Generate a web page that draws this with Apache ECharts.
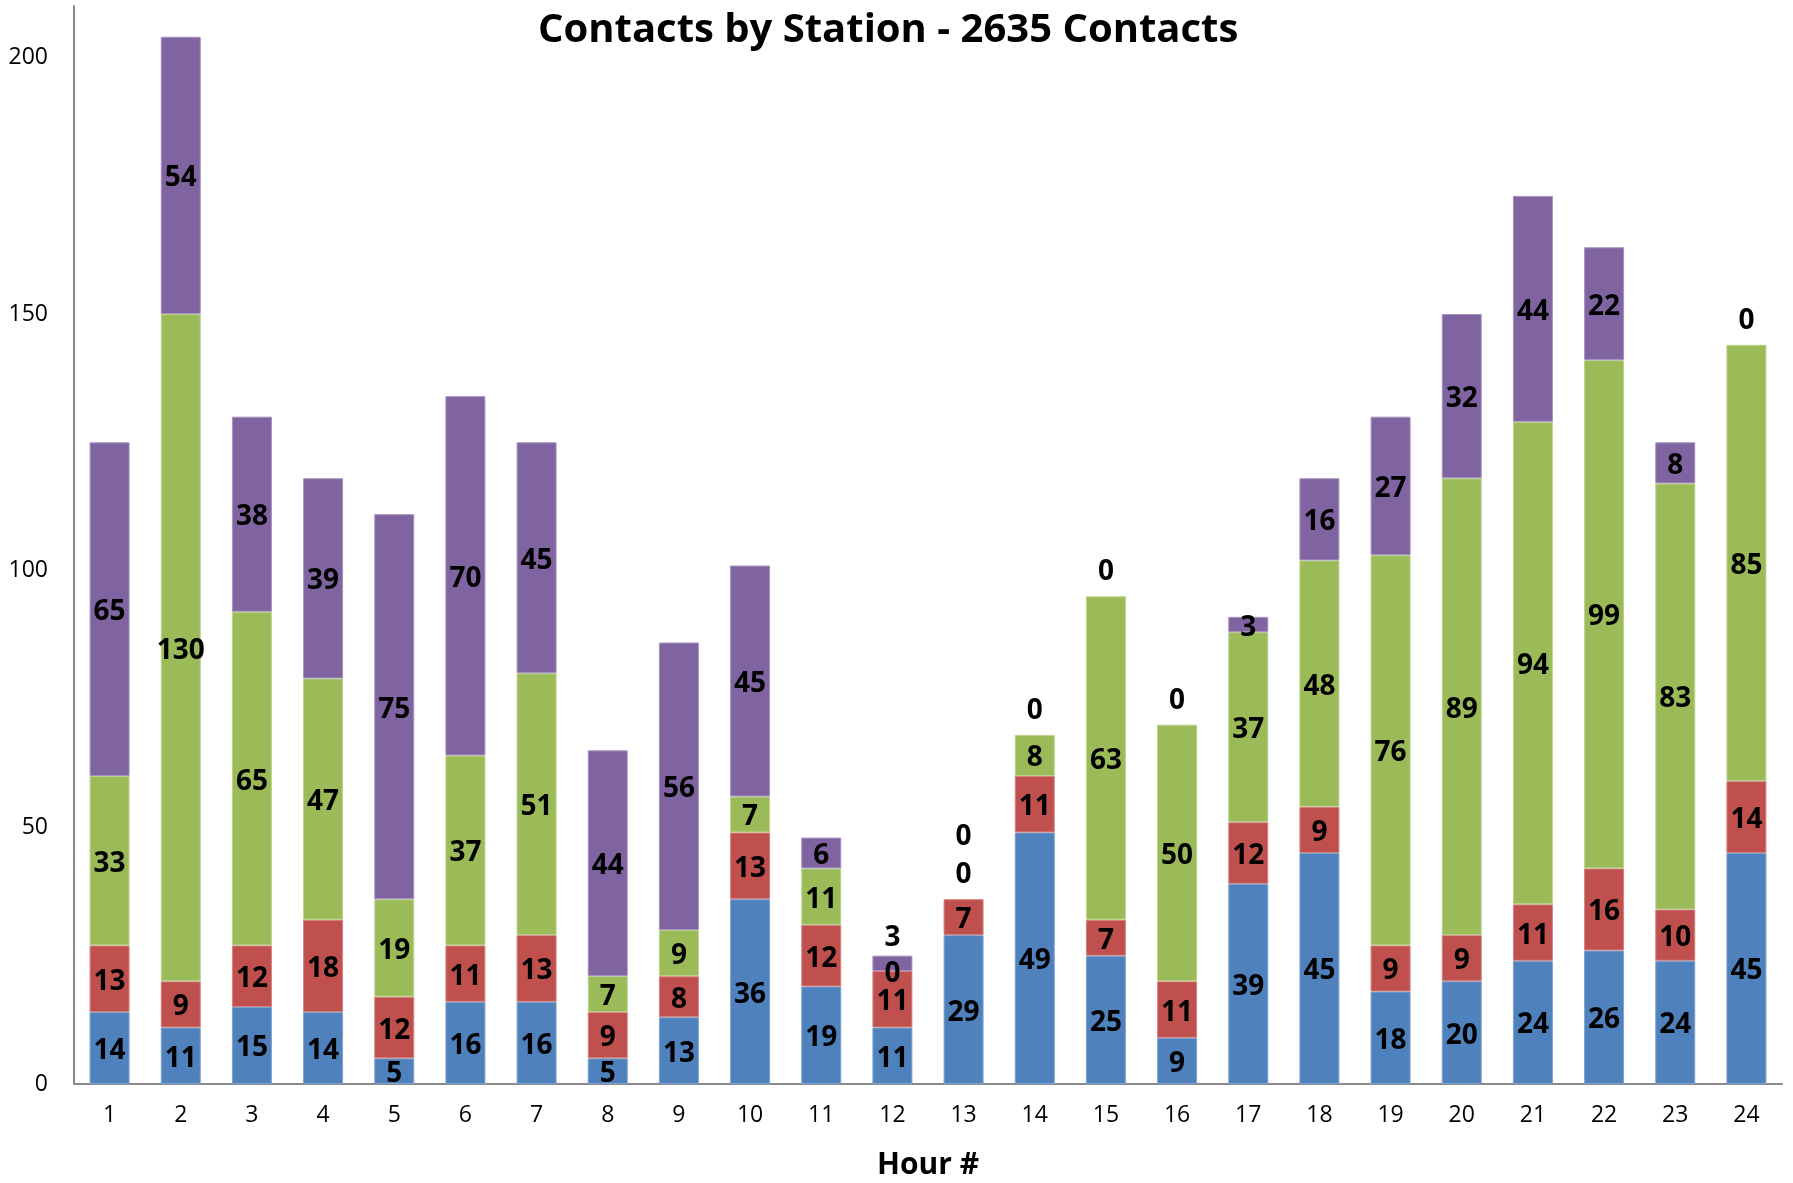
<!DOCTYPE html>
<html>
<head>
<meta charset="utf-8">
<title>Contacts by Station</title>
<script src="https://cdn.jsdelivr.net/npm/echarts@6/dist/echarts.min.js"></script>
<style>
  html, body { margin: 0; padding: 0; background: #fff; }
  #chart { width: 1793px; height: 1183px; }
</style>
</head>
<body>
<div id="chart"></div>
<script>
var hours = ['1','2','3','4','5','6','7','8','9','10','11','12','13','14','15','16','17','18','19','20','21','22','23','24'];
var station1 = [14, 11, 15, 14, 5, 16, 16, 5, 13, 36, 19, 11, 29, 49, 25, 9, 39, 45, 18, 20, 24, 26, 24, 45];
var station2 = [13, 9, 12, 18, 12, 11, 13, 9, 8, 13, 12, 11, 7, 11, 7, 11, 12, 9, 9, 9, 11, 16, 10, 14];
var station3 = [33, 130, 65, 47, 19, 37, 51, 7, 9, 7, 11, 0, 0, 8, 63, 50, 37, 48, 76, 89, 94, 99, 83, 85];
var station4 = [65, 54, 38, 39, 75, 70, 45, 44, 56, 45, 6, 3, 0, 0, 0, 0, 3, 16, 27, 32, 44, 22, 8, 0];

var stack = [station1, station2, station3, station4];
var names = ['Station 1', 'Station 2', 'Station 3', 'Station 4'];
var colors = ['#4F81BD', '#C0504D', '#9BBB59', '#8064A2'];
var borders = ['#7FA3D1', '#D48280', '#BCD38F', '#A592BF'];

// zero segments on top of a bar get their label lifted above it, like excel does
function buildItem(si, i) {
  var v = stack[si][i];
  var above = stack.slice(si + 1).map(function (s) { return s[i]; });
  if (v === 0) {
    var item = { value: v, itemStyle: { borderWidth: 0 } };
    if (above.every(function (a) { return a === 0; })) {
      var k = 0;
      for (var j = si - 1; j >= 0 && stack[j][i] === 0; j--) k++;
      item.label = { position: 'top', distance: 10 + k * 38, offset: [0, 0] };
    }
    return item;
  }
  if (v < 5 && si > 0 && stack[si - 1][i] === 0) {
    return { value: v, label: { position: 'top', distance: 4, offset: [0, 0] } };
  }
  return v;
}

var series = stack.map(function (arr, si) {
  return {
    name: names[si],
    type: 'bar',
    stack: 'total',
    barWidth: 40,
    data: arr.map(function (v, i) { return buildItem(si, i); }),
    itemStyle: { color: colors[si], borderColor: borders[si], borderWidth: 1 },
    label: {
      show: true,
      position: 'inside',
      offset: [0, 3],
      color: '#000',
      fontFamily: 'Open Sans',
      fontWeight: 'bold',
      fontSize: 28
    }
  };
});

var chart = echarts.init(document.getElementById('chart'));
chart.setOption({
  animation: false,
  title: {
    text: 'Contacts by Station - 2635 Contacts',
    left: 533,
    top: 6,
    textStyle: { fontFamily: 'Open Sans', fontWeight: 'bold', fontSize: 40, color: '#000' }
  },
  grid: { left: 74, right: 11, top: 6, bottom: 99, outerBoundsMode: 'none', containLabel: false },
  xAxis: {
    type: 'category',
    data: hours,
    name: 'Hour #',
    nameLocation: 'middle',
    nameGap: 66,
    nameTextStyle: { fontFamily: 'Open Sans', fontWeight: 'bold', fontSize: 30, color: '#000' },
    axisLine: { lineStyle: { color: '#8A8A8A', width: 2 } },
    axisTick: { show: false },
    axisLabel: { margin: 20, fontFamily: 'Open Sans', fontSize: 23, color: '#000' }
  },
  yAxis: {
    type: 'value',
    min: 0,
    max: 210,
    interval: 50,
    splitLine: { show: false },
    axisLine: { show: true, lineStyle: { color: '#8A8A8A', width: 2 } },
    axisTick: { show: false },
    axisLabel: {
      margin: 26,
      fontFamily: 'Open Sans',
      fontSize: 23,
      color: '#000',
      formatter: function (v) { return v % 50 === 0 ? v : ''; }
    }
  },
  series: series
});
</script>
</body>
</html>
